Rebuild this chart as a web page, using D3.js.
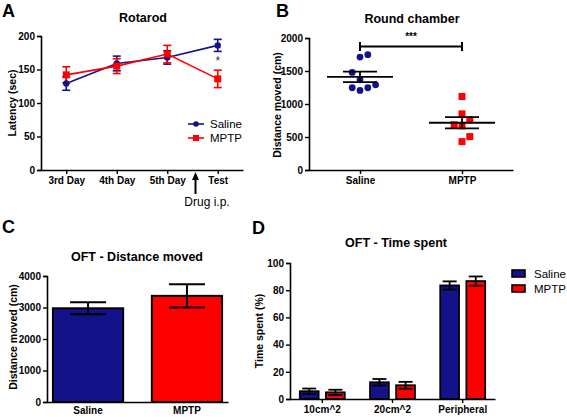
<!DOCTYPE html>
<html><head><meta charset="utf-8">
<script src="https://cdn.jsdelivr.net/npm/d3@7"></script>
<style>
body{margin:0;background:#fff;}
svg{display:block;font-family:"Liberation Sans",Arial,sans-serif;}
.tick text{font-weight:bold;font-size:10px;fill:#000;}
</style></head><body>
<script>
// ---------- DATA ----------
// Panel A: Rotarod
const daysA = ["3rd Day","4th Day","5th Day","Test"];
const salineLatency = [129, 159, 168, 186];
const salineLatencyErr = [10, 11, 10, 9];
const mptpLatency = [142, 155, 173, 136];
const mptpLatencyErr = [12, 11, 13, 13];
const ticksA = [0,50,100,150,200];
// Panel B: Round chamber
const groupsB = ["Saline","MPTP"];
const salineDist = [1711, 1747, 1478, 1367, 1246, 1205, 1246, 1291];
const salineColumn = [0, 1, -1, 0, -1, 0, 1, 2];
const mptpDist = [1114, 851, 759, 684, 668, 506, 430];
const mptpColumn = [0, 0, 1, -1, 0, 1, 0];
const meanB = [1410, 716];
const semB = [80, 86];
const ticksB = [0,500,1000,1500,2000];
// Panel C: OFT distance moved
const groupsC = ["Saline","MPTP"];
const distC = [2975, 3370];
const distCErr = [190, 370];
const ticksC = [0,1000,2000,3000,4000];
// Panel D: OFT time spent
const zonesD = ["10cm^2","20cm^2","Peripheral"];
const salineTime = [5.7, 12.3, 83.5];
const salineTimeErr = [2.0, 2.4, 3.0];
const mptpTime = [4.9, 10.1, 86.7];
const mptpTimeErr = [1.9, 2.5, 3.4];
const ticksD = [0,20,40,60,80,100];
const seriesNames = ["Saline","MPTP"];

// ---------- STYLE ----------
const NAVY = "#12128a", RED = "#ff0000";
const W = 567, H = 417;
const fmt = d3.format("d");
const svg = d3.select("body").append("svg").attr("width", W).attr("height", H);

function styleAxis(g){
  g.selectAll(".domain").attr("stroke","#000").attr("stroke-width",1.6);
  g.selectAll(".tick line").attr("stroke","#000").attr("stroke-width",1.4);
}
function txt(x,y,s,opts={}){
  const t = svg.append("text").attr("x",x).attr("y",y).text(s)
    .attr("font-size",opts.size||12).attr("font-weight",opts.weight||"bold")
    .attr("text-anchor",opts.anchor||"middle").attr("fill","#000");
  if(opts.rotate) t.attr("transform",`rotate(-90,${x},${y})`);
  if(opts.family) t.attr("font-family",opts.family);
  return t;
}
function errBar(g,x,y1,y2,cap,color,w){
  g.append("line").attr("x1",x).attr("x2",x).attr("y1",y1).attr("y2",y2).attr("stroke",color).attr("stroke-width",w||1.6);
  [y1,y2].forEach(y=>g.append("line").attr("x1",x-cap).attr("x2",x+cap).attr("y1",y).attr("y2",y).attr("stroke",color).attr("stroke-width",w||1.6));
}
const LETTER = {size:18};

// ---------- PANEL A ----------
{
  const x = d3.scalePoint().domain(daysA).range([41,243]).padding(0.5);
  const y = d3.scaleLinear().domain([0,200]).range([170,36]);
  const g = svg.append("g");
  g.append("g").attr("transform","translate(41,0)").call(d3.axisLeft(y).tickValues(ticksA).tickFormat(fmt).tickSize(4).tickPadding(2)).call(styleAxis);
  g.append("g").attr("transform","translate(0,170)").call(d3.axisBottom(x).tickSize(4).tickPadding(3).tickSizeOuter(0)).call(styleAxis);
  const line = d3.line().x((d,i)=>x(daysA[i])).y(d=>y(d));
  g.append("path").datum(salineLatency).attr("d",line).attr("fill","none").attr("stroke",NAVY).attr("stroke-width",1.6);
  g.append("path").datum(mptpLatency).attr("d",line).attr("fill","none").attr("stroke",RED).attr("stroke-width",1.6);
  salineLatency.forEach((v,i)=>errBar(g,x(daysA[i]),y(v+salineLatencyErr[i]),y(v-salineLatencyErr[i]),4,NAVY));
  mptpLatency.forEach((v,i)=>errBar(g,x(daysA[i]),y(v+mptpLatencyErr[i]),y(v-mptpLatencyErr[i]),4,RED));
  salineLatency.forEach((v,i)=>g.append("circle").attr("cx",x(daysA[i])).attr("cy",y(v)).attr("r",3.2).attr("fill",NAVY));
  mptpLatency.forEach((v,i)=>g.append("rect").attr("x",x(daysA[i])-3.5).attr("y",y(v)-3.5).attr("width",7).attr("height",7).attr("fill",RED));
  txt(x("Test"),y(156),"*",{size:12,weight:"normal"}).attr("fill","#333");
  txt(143,22,"Rotarod",{size:12.5});
  txt(2,17,"A",{...LETTER,anchor:"start",weight:"bold"});
  txt(16,103,"Latency (sec)",{size:10.5,rotate:true});
  // legend
  g.append("line").attr("x1",188).attr("x2",204).attr("y1",124).attr("y2",124).attr("stroke",NAVY).attr("stroke-width",1.6);
  g.append("circle").attr("cx",196).attr("cy",124).attr("r",2.8).attr("fill",NAVY);
  g.append("line").attr("x1",188).attr("x2",204).attr("y1",138).attr("y2",138).attr("stroke",RED).attr("stroke-width",1.6);
  g.append("rect").attr("x",193).attr("y",135).attr("width",6).attr("height",6).attr("fill",RED);
  txt(210,128,"Saline",{size:11.5,weight:"normal",anchor:"start"});
  txt(210,142,"MPTP",{size:11.5,weight:"normal",anchor:"start"});
  // drug arrow
  const ax = (x("5th Day")+x("Test"))/2 + 3;
  g.append("line").attr("x1",ax).attr("x2",ax).attr("y1",194).attr("y2",179).attr("stroke","#000").attr("stroke-width",2);
  g.append("path").attr("d",`M${ax-3.5},${180} L${ax},${172} L${ax+3.5},${180} Z`).attr("fill","#000");
  txt(207,206,"Drug i.p.",{size:12,weight:"normal"});
}

// ---------- PANEL B ----------
{
  const x = d3.scalePoint().domain(groupsB).range([309,513]).padding(0.5);
  const y = d3.scaleLinear().domain([0,2000]).range([170,38]);
  const g = svg.append("g");
  g.append("g").attr("transform","translate(309,0)").call(d3.axisLeft(y).tickValues(ticksB).tickFormat(fmt).tickSize(4).tickPadding(2)).call(styleAxis);
  g.append("g").attr("transform","translate(0,170)").call(d3.axisBottom(x).tickSize(4).tickPadding(3).tickSizeOuter(0)).call(styleAxis);
  const colW = 7.8;
  salineDist.forEach((v,i)=>g.append("circle").attr("cx",x("Saline")+salineColumn[i]*colW).attr("cy",y(v)).attr("r",3.4).attr("fill",NAVY));
  mptpDist.forEach((v,i)=>g.append("rect").attr("x",x("MPTP")+mptpColumn[i]*colW-3.5).attr("y",y(v)-3.5).attr("width",7).attr("height",7).attr("fill",RED));
  groupsB.forEach((k,i)=>{
    const cx = x(k);
    g.append("line").attr("x1",cx-33).attr("x2",cx+33).attr("y1",y(meanB[i])).attr("y2",y(meanB[i])).attr("stroke","#000").attr("stroke-width",1.8);
    errBar(g,cx,y(meanB[i]+semB[i]),y(meanB[i]-semB[i]),17,"#000",1.8);
  });
  // significance bracket
  const by = y(1870);
  g.append("line").attr("x1",x("Saline")).attr("x2",x("MPTP")).attr("y1",by).attr("y2",by).attr("stroke","#000").attr("stroke-width",2);
  [x("Saline"),x("MPTP")].forEach(cx=>g.append("line").attr("x1",cx).attr("x2",cx).attr("y1",by-4.5).attr("y2",by+4.5).attr("stroke","#000").attr("stroke-width",2));
  txt((x("Saline")+x("MPTP"))/2,40,"***",{size:10});
  txt(412,23,"Round chamber",{size:12.5});
  txt(276,17,"B",{...LETTER,anchor:"start",weight:"bold"});
  txt(281,105,"Distance moved (cm)",{size:10.5,rotate:true});
}

// ---------- PANEL C ----------
{
  const x = d3.scaleBand().domain(groupsC).range([47,228]).paddingInner(0.29).paddingOuter(0.06);
  const y = d3.scaleLinear().domain([0,4000]).range([402,276]);
  const g = svg.append("g");
  const colors = [NAVY, RED];
  groupsC.forEach((k,i)=>{
    g.append("rect").attr("x",x(k)).attr("y",y(distC[i])).attr("width",x.bandwidth()).attr("height",y(0)-y(distC[i]))
      .attr("fill",colors[i]).attr("stroke","#000").attr("stroke-width",2);
    errBar(g,x(k)+x.bandwidth()/2,y(distC[i]+distCErr[i]),y(distC[i]-distCErr[i]),18,"#000",2);
  });
  g.append("g").attr("transform","translate(47,0)").call(d3.axisLeft(y).tickValues(ticksC).tickFormat(fmt).tickSize(4).tickPadding(2)).call(styleAxis);
  g.append("g").attr("transform","translate(0,402)").call(d3.axisBottom(x).tickSize(0).tickPadding(5).tickSizeOuter(0)).call(styleAxis);
  txt(137,261,"OFT - Distance moved",{size:12.5});
  txt(2,233,"C",{...LETTER,anchor:"start",weight:"bold"});
  txt(17,337,"Distance moved (cm)",{size:10.5,rotate:true});
}

// ---------- PANEL D ----------
{
  const x0 = d3.scaleBand().domain(zonesD).range([290,495]).paddingInner(0.36).paddingOuter(0.14);
  const x1 = d3.scaleBand().domain(seriesNames).range([0,x0.bandwidth()]).paddingInner(0.28);
  const y = d3.scaleLinear().domain([0,100]).range([399,263]);
  const g = svg.append("g");
  const vals = [salineTime, mptpTime], errs = [salineTimeErr, mptpTimeErr], colors = [NAVY, RED];
  zonesD.forEach((z,zi)=>{
    seriesNames.forEach((s,si)=>{
      const v = vals[si][zi], e = errs[si][zi];
      const bx = x0(z)+x1(s);
      g.append("rect").attr("x",bx).attr("y",y(v)).attr("width",x1.bandwidth()).attr("height",y(0)-y(v))
        .attr("fill",colors[si]).attr("stroke","#000").attr("stroke-width",1.8);
      errBar(g,bx+x1.bandwidth()/2,y(v+e),y(v-e),7,"#000",1.8);
    });
  });
  g.append("g").attr("transform","translate(290,0)").call(d3.axisLeft(y).tickValues(ticksD).tickFormat(fmt).tickSize(4).tickPadding(2)).call(styleAxis);
  g.append("g").attr("transform","translate(0,399)").call(d3.axisBottom(x0).tickSize(4).tickPadding(3).tickSizeOuter(0)).call(styleAxis);
  txt(396,247,"OFT - Time spent",{size:12.5});
  txt(252,234,"D",{...LETTER,anchor:"start",weight:"bold"});
  txt(263,331,"Time spent (%)",{size:10.5,rotate:true});
  seriesNames.forEach((s,si)=>{
    g.append("rect").attr("x",512).attr("y",270+si*15).attr("width",13).attr("height",7).attr("fill",colors[si]).attr("stroke","#000").attr("stroke-width",1.6);
    txt(534,278+si*15,s,{size:11.5,weight:"normal",anchor:"start"});
  });
}
</script>
</body></html>
